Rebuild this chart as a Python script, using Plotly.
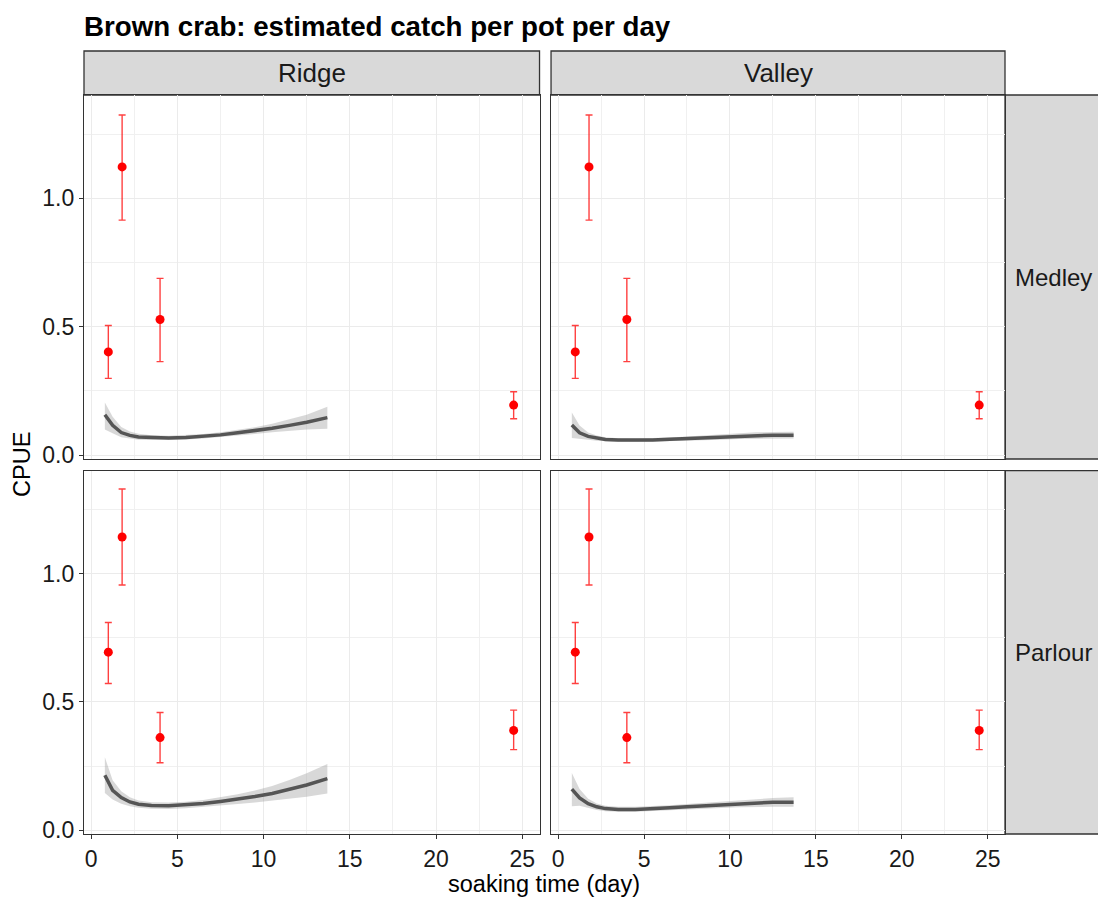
import plotly.graph_objects as go

# ---- observed CPUE (mean with interval) by soaking time ----
soak_obs = [1.0, 1.8, 4.0, 24.5]
medley_cpue = [0.402, 1.122, 0.528, 0.195]
medley_lo = [0.299, 0.915, 0.364, 0.142]
medley_hi = [0.505, 1.324, 0.688, 0.247]
parlour_cpue = [0.694, 1.143, 0.361, 0.389]
parlour_lo = [0.572, 0.956, 0.263, 0.314]
parlour_hi = [0.810, 1.330, 0.459, 0.468]

# ---- model fit with confidence band ----
soak_fit = [0.8, 1.25, 1.75, 2.25, 2.75, 3.5, 4.5, 5.5, 6.5, 7.5, 8.5, 9.5, 10.5, 11.5, 12.5, 13.7]

ridge_medley_fit = [0.157, 0.116, 0.088, 0.077, 0.071, 0.068, 0.067, 0.069, 0.073, 0.079, 0.087, 0.095, 0.105, 0.116, 0.128, 0.146]
ridge_medley_lwr = [0.100, 0.085, 0.070, 0.064, 0.060, 0.059, 0.059, 0.061, 0.065, 0.070, 0.076, 0.082, 0.089, 0.095, 0.100, 0.103]
ridge_medley_upr = [0.205, 0.150, 0.110, 0.092, 0.083, 0.078, 0.076, 0.078, 0.082, 0.089, 0.098, 0.109, 0.122, 0.138, 0.157, 0.188]

valley_medley_fit = [0.117, 0.087, 0.073, 0.066, 0.061, 0.059, 0.058, 0.059, 0.062, 0.065, 0.067, 0.070, 0.074, 0.077, 0.078, 0.078]
valley_medley_lwr = [0.067, 0.065, 0.060, 0.056, 0.053, 0.052, 0.051, 0.052, 0.054, 0.056, 0.058, 0.060, 0.063, 0.065, 0.065, 0.065]
valley_medley_upr = [0.166, 0.115, 0.088, 0.077, 0.070, 0.066, 0.065, 0.066, 0.069, 0.073, 0.077, 0.081, 0.085, 0.089, 0.090, 0.091]

ridge_parlour_fit = [0.214, 0.155, 0.127, 0.110, 0.101, 0.096, 0.095, 0.098, 0.104, 0.112, 0.121, 0.131, 0.143, 0.158, 0.176, 0.201]
ridge_parlour_lwr = [0.145, 0.120, 0.103, 0.093, 0.087, 0.083, 0.082, 0.085, 0.090, 0.096, 0.102, 0.108, 0.115, 0.122, 0.130, 0.143]
ridge_parlour_upr = [0.284, 0.195, 0.152, 0.128, 0.116, 0.109, 0.108, 0.111, 0.118, 0.128, 0.140, 0.155, 0.172, 0.196, 0.222, 0.258]

valley_parlour_fit = [0.160, 0.126, 0.103, 0.091, 0.084, 0.081, 0.081, 0.083, 0.087, 0.091, 0.095, 0.099, 0.103, 0.107, 0.109, 0.109]
valley_parlour_lwr = [0.093, 0.095, 0.086, 0.079, 0.074, 0.072, 0.072, 0.074, 0.077, 0.080, 0.083, 0.086, 0.089, 0.091, 0.091, 0.091]
valley_parlour_upr = [0.223, 0.160, 0.122, 0.104, 0.095, 0.091, 0.091, 0.093, 0.097, 0.102, 0.107, 0.112, 0.117, 0.122, 0.125, 0.128]

col_labels = ["Ridge", "Valley"]
row_labels = ["Medley", "Parlour"]
x_ticks = [0, 5, 10, 15, 20, 25]
y_ticks = [0.0, 0.5, 1.0]

FONT = "Liberation Sans, Arial, sans-serif"
W, H = 1098, 897
M_L, M_R, M_T, M_B = 84, 93, 51, 63

# panel domains in paper coordinates
col_dom = [[0.0, 0.4946], [0.5071, 1.0]]
row_dom = [[0.4789, 0.9438], [0.0, 0.4641]]   # top row, bottom row

panels = [
    # (row, col, fit, lwr, upr, obs, lo, hi)
    (0, 0, ridge_medley_fit, ridge_medley_lwr, ridge_medley_upr, medley_cpue, medley_lo, medley_hi),
    (0, 1, valley_medley_fit, valley_medley_lwr, valley_medley_upr, medley_cpue, medley_lo, medley_hi),
    (1, 0, ridge_parlour_fit, ridge_parlour_lwr, ridge_parlour_upr, parlour_cpue, parlour_lo, parlour_hi),
    (1, 1, valley_parlour_fit, valley_parlour_lwr, valley_parlour_upr, parlour_cpue, parlour_lo, parlour_hi),
]

fig = go.Figure()
layout_axes = {}

for i, (r, c, fit, lwr, upr, obs, lo, hi) in enumerate(panels):
    n = i + 1
    xa = "x" if n == 1 else f"x{n}"
    ya = "y" if n == 1 else f"y{n}"

    # confidence band
    fig.add_trace(go.Scatter(
        x=soak_fit + soak_fit[::-1], y=upr + lwr[::-1],
        fill="toself", fillcolor="rgba(153,153,153,0.38)",
        line=dict(width=0), mode="lines", hoverinfo="skip",
        showlegend=False, xaxis=xa, yaxis=ya))
    # fitted curve
    fig.add_trace(go.Scatter(
        x=soak_fit, y=fit, mode="lines",
        line=dict(color="#555555", width=3.5),
        showlegend=False, xaxis=xa, yaxis=ya))
    # observed means with intervals
    fig.add_trace(go.Scatter(
        x=soak_obs, y=obs, mode="markers",
        marker=dict(color="#FF0000", size=9),
        error_y=dict(type="data", symmetric=False,
                     array=[h - o for h, o in zip(hi, obs)],
                     arrayminus=[o - l for o, l in zip(obs, lo)],
                     color="rgba(255,0,0,0.75)", thickness=1.4, width=3.5),
        showlegend=False, xaxis=xa, yaxis=ya))

    axname_x = "xaxis" if n == 1 else f"xaxis{n}"
    axname_y = "yaxis" if n == 1 else f"yaxis{n}"
    bottom = (r == 1)
    left = (c == 0)
    layout_axes[axname_x] = dict(
        domain=col_dom[c], anchor=ya, range=[-0.41, 26.0],
        tickvals=x_ticks, ticktext=[str(v) for v in x_ticks],
        showticklabels=bottom, ticks="outside" if bottom else "",
        ticklen=4, tickwidth=1, tickcolor="#333333",
        tickfont=dict(family=FONT, size=23, color="#1a1a1a"),
        showgrid=True, gridcolor="#EBEBEB", gridwidth=1.1,
        minor=dict(tickvals=[2.5, 7.5, 12.5, 17.5, 22.5], showgrid=True,
                   gridcolor="#F0F0F0", gridwidth=0.7),
        zeroline=False, showline=True, mirror=True,
        linecolor="#333333", linewidth=1.3)
    layout_axes[axname_y] = dict(
        domain=row_dom[r], anchor=xa, range=[-0.015, 1.402],
        tickvals=y_ticks, ticktext=[f"{v:.1f}" for v in y_ticks],
        showticklabels=left, ticks="outside" if left else "",
        ticklen=4, tickwidth=1, tickcolor="#333333",
        tickfont=dict(family=FONT, size=23, color="#1a1a1a"),
        showgrid=True, gridcolor="#EBEBEB", gridwidth=1.1,
        minor=dict(tickvals=[0.25, 0.75, 1.25], showgrid=True,
                   gridcolor="#F0F0F0", gridwidth=0.7),
        zeroline=False, showline=True, mirror=True,
        linecolor="#333333", linewidth=1.3)

shapes = []
annotations = []
strip_style = dict(type="rect", xref="paper", yref="paper",
                   fillcolor="#D9D9D9", line=dict(color="#333333", width=1.3),
                   layer="below")

# column strips on top
for c, lab in enumerate(col_labels):
    shapes.append(dict(strip_style, x0=col_dom[c][0], x1=col_dom[c][1], y0=0.9438, y1=1.0))
    annotations.append(dict(text=lab, xref="paper", yref="paper",
                            x=sum(col_dom[c]) / 2, y=(0.9438 + 1.0) / 2,
                            xanchor="center", yanchor="middle", showarrow=False,
                            font=dict(family=FONT, size=26, color="#1a1a1a")))

# row strips on the right (labels sized to stay inside the figure)
for r, lab in enumerate(row_labels):
    shapes.append(dict(strip_style, x0=1.0, x1=1.16, y0=row_dom[r][0], y1=row_dom[r][1]))
    annotations.append(dict(text=lab, xref="paper", yref="paper",
                            x=1.0087, y=sum(row_dom[r]) / 2,
                            xanchor="left", yanchor="middle", showarrow=False,
                            font=dict(family=FONT, size=24, color="#1a1a1a")))

# axis titles
annotations.append(dict(text="soaking time (day)", xref="paper", yref="paper",
                        x=0.4995, y=-0.0639, xanchor="center", yanchor="middle",
                        showarrow=False, font=dict(family=FONT, size=23.5, color="#000000")))
annotations.append(dict(text="CPUE", xref="paper", yref="paper",
                        x=-0.0673, y=0.4713, xanchor="center", yanchor="middle",
                        textangle=-90, showarrow=False,
                        font=dict(family=FONT, size=23.5, color="#000000")))

fig.update_layout(
    width=W, height=H,
    margin=dict(l=M_L, r=M_R, t=M_T, b=M_B),
    paper_bgcolor="white", plot_bgcolor="white",
    title=dict(text="<b>Brown crab: estimated catch per pot per day</b>",
               x=84 / W, xanchor="left", y=1 - 26 / H, yanchor="middle",
               font=dict(family=FONT, size=27.7, color="#000000")),
    shapes=shapes, annotations=annotations,
    showlegend=False,
    **layout_axes,
)

fig.write_html("out.html")
